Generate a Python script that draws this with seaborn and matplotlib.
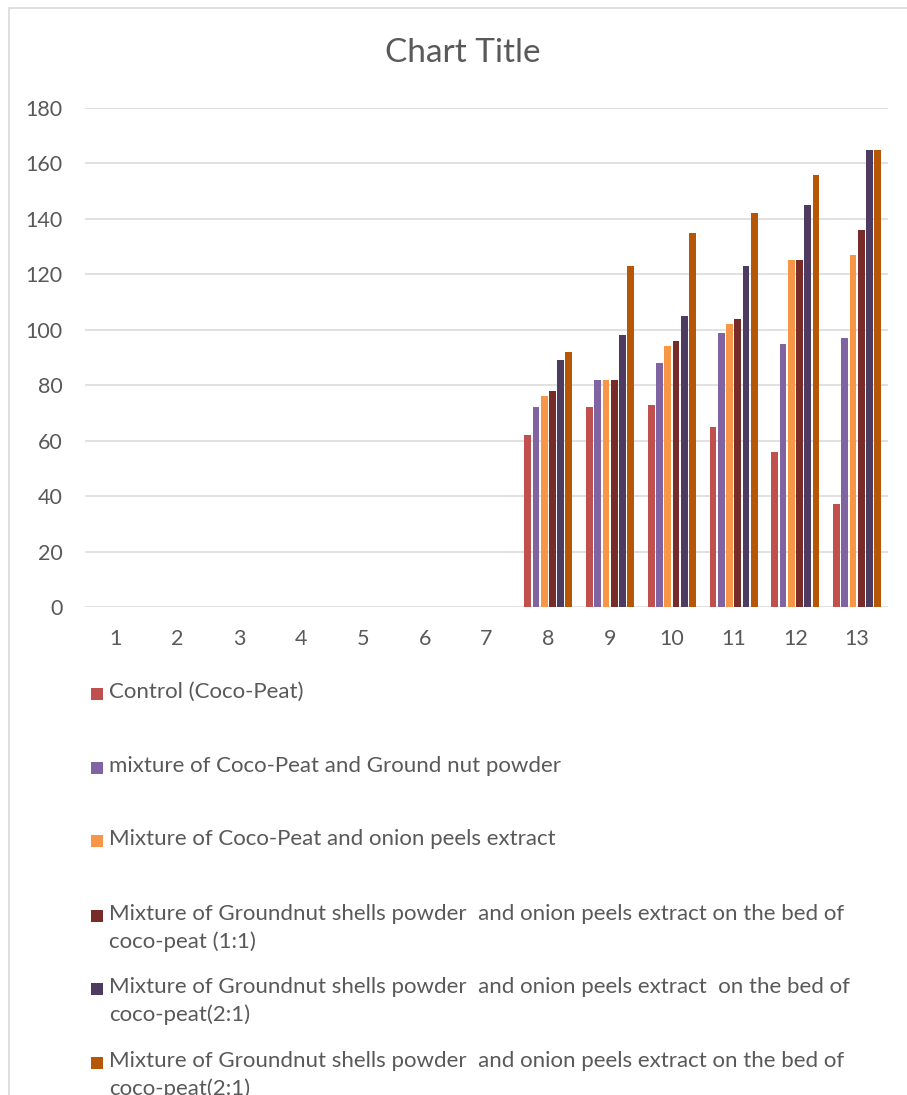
import matplotlib
matplotlib.use("Agg")
import matplotlib.pyplot as plt
from matplotlib.patches import Rectangle
import seaborn as sns
import pandas as pd
import numpy as np

# data (days 1-7 have no bars)
days = [str(d) for d in range(1, 14)]
series_names = [
    "Control (Coco-Peat)",
    "mixture of Coco-Peat and Ground nut powder",
    "Mixture of Coco-Peat and onion peels extract",
    "Mixture of Groundnut shells powder  and onion peels extract on the bed of\ncoco-peat (1:1)",
    "Mixture of Groundnut shells powder  and onion peels extract  on the bed of\ncoco-peat(2:1)",
    "Mixture of Groundnut shells powder  and onion peels extract on the bed of\ncoco-peat(2:1)",
]
nan = np.nan
control = [nan] * 7 + [62, 72, 73, 65, 56, 37]
ground_nut = [nan] * 7 + [72, 82, 88, 99, 95, 97]
onion = [nan] * 7 + [76, 82, 94, 102, 125, 127]
mix_1_1 = [nan] * 7 + [78, 82, 96, 104, 125, 136]
mix_2_1a = [nan] * 7 + [89, 98, 105, 123, 145, 165]
mix_2_1b = [nan] * 7 + [92, 123, 135, 142, 156, 165]
colors = ["#c0504d", "#8064a2", "#f79646", "#772c2a", "#4d3b62", "#b65708"]

all_vals = [control, ground_nut, onion, mix_1_1, mix_2_1a, mix_2_1b]
frames = []
for i, (name, vals) in enumerate(zip(series_names, all_vals)):
    frames.append(pd.DataFrame({"day": days, "value": vals, "series": "s%d" % i}))
df = pd.concat(frames, ignore_index=True)

sns.set_theme(style="white")
plt.rcParams["font.family"] = ["Lato", "DejaVu Sans"]
text_col = "#595959"
grid_col = "#d9d9d9"

W, H = 907, 1095
fig = plt.figure(figsize=(W / 100, H / 100), dpi=100)
ax = fig.add_axes([85 / W, 1 - 607 / H, 803 / W, 499 / H])

palette = dict(("s%d" % i, c) for i, c in enumerate(colors))
sns.barplot(data=df, x="day", y="value", hue="series", order=days,
            hue_order=list(palette.keys()), palette=palette, errorbar=None,
            width=0.8, gap=0.18, saturation=1, legend=False, ax=ax,
            linewidth=0)

ax.set_xlim(-0.5, 12.5)
ax.set_ylim(0, 180)
ax.set_yticks(range(0, 181, 20))
ax.grid(axis="y", color=grid_col, linewidth=1.1)
ax.set_axisbelow(True)
sns.despine(ax=ax, left=True, bottom=True)
ax.set_xlabel("")
ax.set_ylabel("")
ax.tick_params(axis="y", length=0, pad=16, labelsize=15.5, labelcolor=text_col)
ax.tick_params(axis="x", length=0, pad=16, labelsize=15.5, labelcolor=text_col)

fig.text(463 / W, 1 - 53 / H, "Chart Title", ha="center", va="center",
         fontsize=24, color=text_col)

# chart area border (left and top visible)
fig.add_artist(Rectangle((9 / W, -0.1), 1.2, 1.1 - 8 / H, transform=fig.transFigure,
                         fill=False, edgecolor=grid_col, linewidth=1.2))

# legend entries, stacked below the plot
tops = [682, 756, 829, 904, 977, 1051]
for name, col, top in zip(series_names, colors, tops):
    fig.add_artist(Rectangle((91 / W, 1 - (top + 18) / H), 12 / W, 12 / H,
                             transform=fig.transFigure, facecolor=col, edgecolor="none"))
    fig.text(109 / W, 1 - top / H, name, ha="left", va="top", fontsize=16,
             color=text_col, linespacing=1.45)

fig.savefig("out.png", dpi=100, facecolor="white")
